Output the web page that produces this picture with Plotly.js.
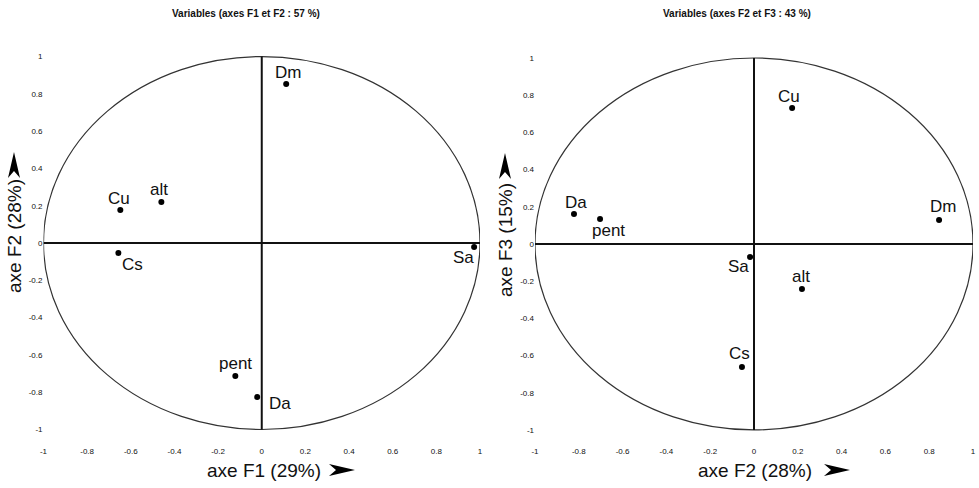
<!DOCTYPE html>
<html>
<head>
<meta charset="utf-8">
<script src="https://cdn.plot.ly/plotly-3.0.1.min.js"></script>
<style>html,body{margin:0;padding:0;background:#fff;}#chart{width:979px;height:488px;}</style>
</head>
<body>
<div id="chart"></div>
<script>
// ---- data ----
const leftVars  = ['Dm', 'Cu', 'alt', 'Cs', 'Sa', 'pent', 'Da'];
const leftF1    = [0.112, -0.648, -0.460, -0.657, 0.973, -0.121, -0.021];
const leftF2    = [0.853, 0.177, 0.220, -0.054, -0.021, -0.713, -0.826];

const rightVars = ['Cu', 'Dm', 'Da', 'pent', 'Sa', 'alt', 'Cs'];
const rightF2   = [0.174, 0.845, -0.822, -0.703, -0.018, 0.219, -0.055];
const rightF3   = [0.731, 0.129, 0.161, 0.134, -0.070, -0.242, -0.661];

const tickVals  = [-1, -0.8, -0.6, -0.4, -0.2, 0, 0.2, 0.4, 0.6, 0.8, 1];
const tickText  = ['-1', '-0.8', '-0.6', '-0.4', '-0.2', '0', '0.2', '0.4', '0.6', '0.8', '1'];

const leftTitle   = 'Variables (axes F1 et F2 : 57 %)';
const rightTitle  = 'Variables (axes F2 et F3 : 43 %)';
const leftXTitle  = 'axe F1 (29%)';
const leftYTitle  = 'axe F2 (28%)';
const rightXTitle = 'axe F2 (28%)';
const rightYTitle = 'axe F3 (15%)';

// ---- label placement (pixel offsets of label centre from its point) ----
const leftLabelShift  = {Dm:[2,11], Cu:[-1,12], alt:[-2,12], Cs:[14,-11], Sa:[-11,-11], pent:[0,13], Da:[23,-6]};
const rightLabelShift = {Cu:[-3,12], Dm:[4,13], Da:[2,12], pent:[8,-11], Sa:[-12,-10], alt:[-1,12], Cs:[-2,13]};

const W = 979, H = 488;
const FONT = 'Liberation Sans, Arial, DejaVu Sans, sans-serif';
const TICKFONT = {family: 'Liberation Sans Narrow, Arial Narrow, Liberation Sans, sans-serif', size: 8, color: '#111'};
const TITLEFONT = {family: 'Liberation Sans Narrow, Arial Narrow, Liberation Sans, sans-serif', size: 10, color: '#111', weight: 'bold'};
const AXTITLEFONT = {family: FONT, size: 19, color: '#111'};

const traces = [
  {x: leftF1, y: leftF2, xaxis: 'x', yaxis: 'y', mode: 'markers', type: 'scatter',
   marker: {color: '#000', size: 6}, hoverinfo: 'skip', showlegend: false},
  {x: rightF2, y: rightF3, xaxis: 'x2', yaxis: 'y2', mode: 'markers', type: 'scatter',
   marker: {color: '#000', size: 6}, hoverinfo: 'skip', showlegend: false}
];

function axisBase(domain, range, anchor) {
  return {domain: domain, range: range, anchor: anchor, showgrid: false, zeroline: false,
          showline: false, ticks: '', tickmode: 'array', tickvals: tickVals, ticktext: tickText,
          tickfont: TICKFONT, fixedrange: true};
}

function frameShapes(xr, yr) {
  return [
    {type: 'circle', xref: xr, yref: yr, x0: -1, x1: 1, y0: -1, y1: 1, line: {color: '#333', width: 1.2}},
    {type: 'line', xref: xr, yref: yr, x0: -1, x1: 1, y0: 0, y1: 0, line: {color: '#111', width: 2}},
    {type: 'line', xref: xr, yref: yr, x0: 0, x1: 0, y0: -1, y1: 1, line: {color: '#111', width: 2}}
  ];
}

// decorative arrowheads next to the axis titles (pixel -> paper)
function px(x, y) { return (x / W).toFixed(5) + ',' + (1 - y / H).toFixed(5); }
function arrowRight(tipX, cy) {
  return {type: 'path', xref: 'paper', yref: 'paper', fillcolor: '#000', line: {width: 0},
    path: 'M' + px(tipX, cy) + 'L' + px(tipX - 26, cy - 6) + 'L' + px(tipX - 19, cy) + 'L' + px(tipX - 26, cy + 6) + 'Z'};
}
function arrowUp(cx, tipY) {
  return {type: 'path', xref: 'paper', yref: 'paper', fillcolor: '#000', line: {width: 0},
    path: 'M' + px(cx, tipY) + 'L' + px(cx - 6, tipY + 26) + 'L' + px(cx, tipY + 19) + 'L' + px(cx + 6, tipY + 26) + 'Z'};
}

function pointLabels(names, xs, ys, shifts, xr, yr) {
  return names.map((n, i) => ({
    text: n, x: xs[i], y: ys[i], xref: xr, yref: yr, showarrow: false,
    xanchor: 'center', yanchor: 'middle', xshift: shifts[n][0], yshift: shifts[n][1],
    font: {family: FONT, size: 17, color: '#111'}
  }));
}

function paperText(text, cx, cy, font, angle) {
  return {text: text, x: cx / W, y: 1 - cy / H, xref: 'paper', yref: 'paper', showarrow: false,
          xanchor: 'center', yanchor: 'middle', textangle: angle || 0, font: font};
}

const annotations = [
  ...pointLabels(leftVars, leftF1, leftF2, leftLabelShift, 'x', 'y'),
  ...pointLabels(rightVars, rightF2, rightF3, rightLabelShift, 'x2', 'y2'),
  paperText(leftTitle, 246, 14, TITLEFONT),
  paperText(rightTitle, 737, 14, TITLEFONT),
  paperText(leftXTitle, 264, 470, AXTITLEFONT),
  paperText(rightXTitle, 755, 470, AXTITLEFONT),
  paperText(leftYTitle, 14, 236, AXTITLEFONT, -90),
  paperText(rightYTitle, 505, 240, AXTITLEFONT, -90)
];

const layout = {
  width: W, height: H,
  margin: {l: 0, r: 0, t: 0, b: 0},
  paper_bgcolor: '#fff', plot_bgcolor: '#fff',
  showlegend: false,
  xaxis:  axisBase([43.5/W, 480/W], [-1, 1], 'y'),
  yaxis:  axisBase([1 - 445/H, 1 - 50/H], [-1.083, 1.035], 'x'),
  xaxis2: axisBase([535/W, 973/W], [-1, 1], 'y2'),
  yaxis2: axisBase([1 - 445/H, 1 - 50/H], [-1.081, 1.043], 'x2'),
  shapes: [...frameShapes('x', 'y'), ...frameShapes('x2', 'y2'),
           arrowRight(355, 470), arrowRight(850, 470), arrowUp(14, 152), arrowUp(505, 153)],
  annotations: annotations
};

Plotly.newPlot('chart', traces, layout, {displayModeBar: false, staticPlot: true});
</script>
</body>
</html>
